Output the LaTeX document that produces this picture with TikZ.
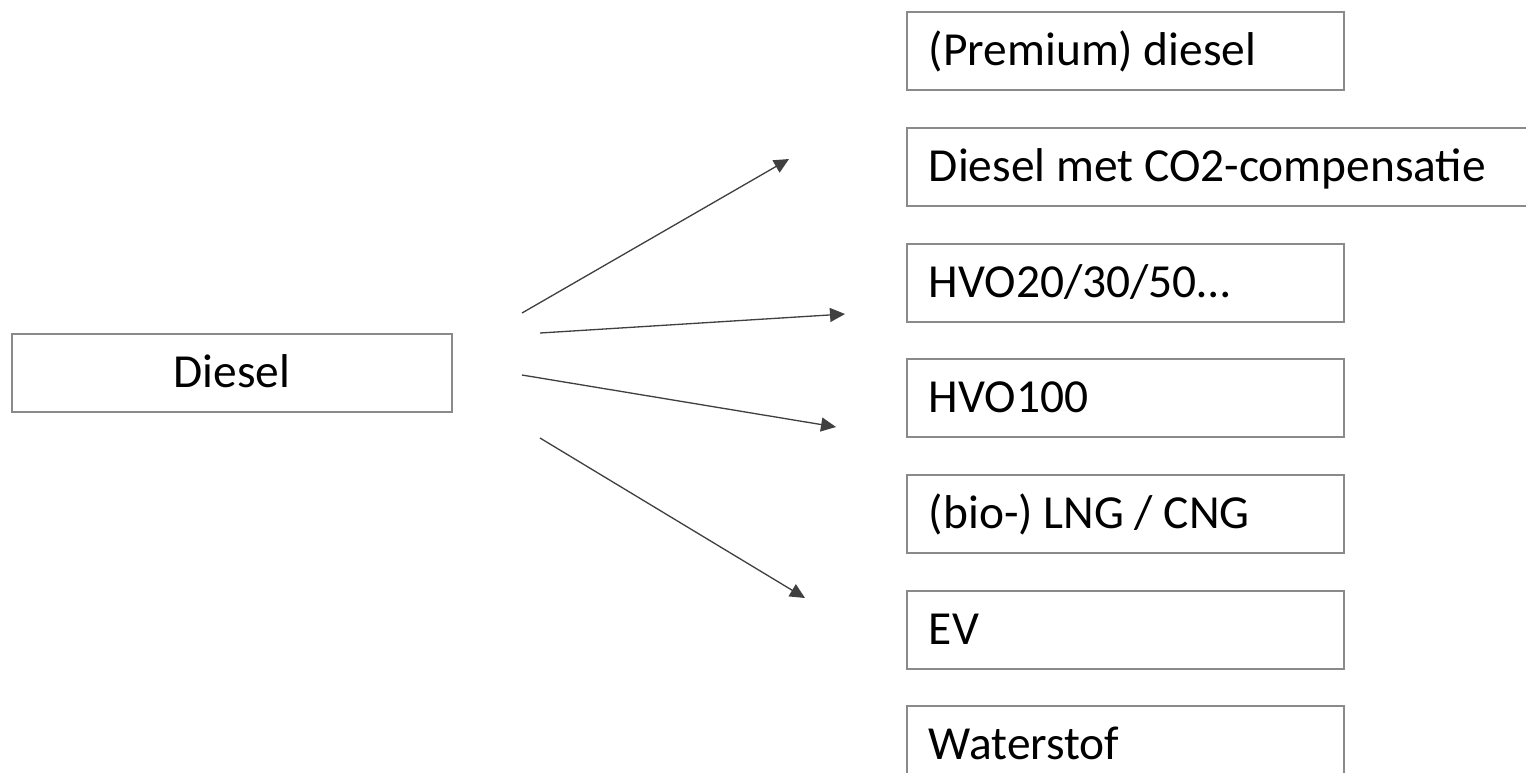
\documentclass[tikz,border=0pt]{standalone}
\usepackage{fontspec}
\setmainfont{Carlito}
\usetikzlibrary{arrows.meta}
\definecolor{boxgray}{HTML}{8A8A8A}
\definecolor{arrowgray}{HTML}{404040}
\begin{document}
\begin{tikzpicture}[x=0.02cm,y=-0.02cm,>={Triangle[length=0.3cm,width=0.28cm]},srcbox/.style={draw=boxgray,line width=1pt,minimum width=8.8cm,minimum height=1.56cm,text height=17pt,text depth=0pt,font=\fontsize{27}{32}\selectfont},optbox/.style={draw=boxgray,line width=1pt,anchor=west,minimum height=1.56cm,inner xsep=0.44cm,text width=7.86cm,align=flush left,text height=17pt,text depth=0pt,font=\fontsize{27}{32}\selectfont},flow/.style={->,draw=arrowgray,line width=0.75pt}]
  \useasboundingbox (0,0) rectangle (1526,772);
  \node[srcbox] (diesel) at (232,373) {Diesel};
  \node[optbox] (premium) at (906,51) {(Premium) diesel};
  \node[optbox,text width=12.2cm] (co2) at (906,167) {Diesel met CO2-compensatie};
  \node[optbox] (hvomix) at (906,283) {HVO20/30/50…};
  \node[optbox] (hvo100) at (906,398) {HVO100};
  \node[optbox] (lng) at (906,514) {(bio-) LNG / CNG};
  \node[optbox] (ev) at (906,630) {EV};
  \node[optbox] (waterstof) at (906,745) {Waterstof};
  \coordinate (a1s) at (522,313);
  \coordinate (a1e) at (789,159);
  \coordinate (a2s) at (540,333);
  \coordinate (a2e) at (845,314);
  \coordinate (a3s) at (522,375);
  \coordinate (a3e) at (836,427);
  \coordinate (a4s) at (540,438);
  \coordinate (a4e) at (805,598);
  \draw[flow] (a1s) -- (a1e);
  \draw[flow] (a2s) -- (a2e);
  \draw[flow] (a3s) -- (a3e);
  \draw[flow] (a4s) -- (a4e);
\end{tikzpicture}
\end{document}
